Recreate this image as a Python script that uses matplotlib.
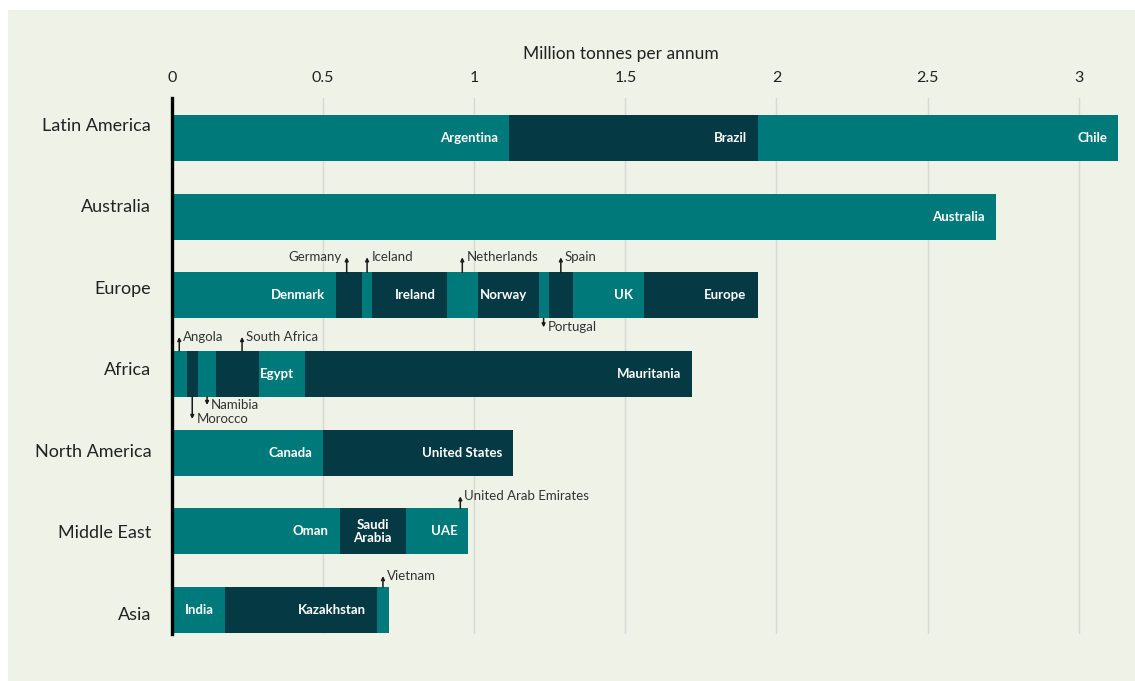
import matplotlib
matplotlib.use("Agg")
import matplotlib.pyplot as plt
from matplotlib.patches import Rectangle

plt.rcParams['font.family'] = ['Lato', 'DejaVu Sans']

# Datos (millones de toneladas por año)
regions = ['Latin America', 'Australia', 'Europe', 'Africa',
           'North America', 'Middle East', 'Asia']

latin_names = ['Argentina', 'Brazil', 'Chile']
latin_vals = [1.115, 0.825, 1.19]
australia_names = ['Australia']
australia_vals = [2.725]
europe_names = ['Denmark', 'Germany', 'Iceland', 'Ireland', 'Netherlands',
                'Norway', 'Portugal', 'Spain', 'UK', 'Europe']
europe_vals = [0.544, 0.085, 0.033, 0.247, 0.103, 0.201, 0.033, 0.081, 0.236, 0.375]
africa_names = ['Angola', 'Morocco', 'Namibia', 'South Africa', 'Egypt', 'Mauritania']
africa_vals = [0.048, 0.038, 0.060, 0.143, 0.152, 1.281]
north_america_names = ['Canada', 'United States']
north_america_vals = [0.5, 0.628]
middle_east_names = ['Oman', 'Saudi Arabia', 'UAE']
middle_east_vals = [0.555, 0.218, 0.208]
asia_names = ['India', 'Kazakhstan', 'Vietnam']
asia_vals = [0.174, 0.503, 0.042]

all_names = [latin_names, australia_names, europe_names, africa_names,
             north_america_names, middle_east_names, asia_names]
all_vals = [latin_vals, australia_vals, europe_vals, africa_vals,
            north_america_vals, middle_east_vals, asia_vals]

# Etiquetas externas: segmento -> (texto, lado, distancia px, texto a la izq., posición relativa)
callouts = {
    'Germany': ('Germany', 'above', 15, True, 0.4),
    'Iceland': ('Iceland', 'above', 15, False, 0.5),
    'Netherlands': ('Netherlands', 'above', 15, False, 0.5),
    'Spain': ('Spain', 'above', 15, False, 0.5),
    'Portugal': ('Portugal', 'below', 9, False, 0.5),
    'Angola': ('Angola', 'above', 14, False, 0.5),
    'South Africa': ('South Africa', 'above', 14, False, 0.6),
    'Namibia': ('Namibia', 'below', 8, False, 0.5),
    'Morocco': ('Morocco', 'below', 22, False, 0.5),
    'UAE': ('United Arab Emirates', 'above', 12, False, 0.87),
    'Vietnam': ('Vietnam', 'above', 11, False, 0.5),
}
no_inside = {'Germany', 'Iceland', 'Netherlands', 'Portugal', 'Spain',
             'Angola', 'Morocco', 'Namibia', 'South Africa', 'Vietnam'}
inside_text = {'Saudi Arabia': 'Saudi\nArabia'}

teal = '#00797A'
dark = '#053A44'
panel = '#EFF2E6'

fig = plt.figure(figsize=(11.35, 6.81), dpi=100, facecolor='white')
fig.patches.append(Rectangle((8 / 1135, 0), 1, 1 - 10 / 681,
                             transform=fig.transFigure, facecolor=panel,
                             edgecolor='none', zorder=-10))
ax = fig.add_axes([172 / 1135, 47 / 681, 946 / 1135, 536 / 681])
ax.set_facecolor(panel)

bar_h = 0.585
px_per_unit = 78.67

for i, (names, vals) in enumerate(zip(all_names, all_vals)):
    left = 0
    for j, (name, v) in enumerate(zip(names, vals)):
        color = teal if j % 2 == 0 else dark
        ax.barh(i, v, left=left, height=bar_h, color=color, linewidth=0, zorder=3)
        if name not in no_inside:
            txt = inside_text.get(name, name)
            if name == 'Saudi Arabia':
                ax.text(left + v / 2, i, txt, ha='center', va='center', color='white',
                        fontsize=9.5, fontweight='bold', zorder=4, linespacing=1.1)
            else:
                ax.annotate(txt, xy=(left + v, i), xytext=(-8, 0),
                            textcoords='offset points', ha='right', va='center',
                            color='white', fontsize=9.5, fontweight='bold', zorder=4)
        if name in callouts:
            label, side, dist, text_left, frac = callouts[name]
            x = left + v * frac
            if side == 'above':
                edge = i - bar_h / 2
                tip = edge - dist / px_per_unit
            else:
                edge = i + bar_h / 2
                tip = edge + dist / px_per_unit
            ax.annotate('', xy=(x, tip), xytext=(x, edge),
                        arrowprops=dict(arrowstyle='-|>', color='#1a1a1a', lw=1.1,
                                        mutation_scale=5, shrinkA=0, shrinkB=0),
                        zorder=5)
            ax.annotate(label, xy=(x, tip), xytext=(-4 if text_left else 3, 0),
                        textcoords='offset points', ha='right' if text_left else 'left',
                        va='center', color='#333333', fontsize=9.5, zorder=5)
        left += v

ax.set_xlim(0, 3.13)
ax.set_ylim(6.305, -0.508)

ax.xaxis.tick_top()
ax.xaxis.set_label_position('top')
ax.set_xticks([0, 0.5, 1, 1.5, 2, 2.5, 3])
ax.set_xticklabels(['0', '0.5', '1', '1.5', '2', '2.5', '3'])
ax.set_xlabel('Million tonnes per annum', fontsize=12.5, color='#222222')
ax.xaxis.set_label_coords(0.474, 1.073)
ax.tick_params(axis='x', length=0, pad=9, labelsize=11.5, labelcolor='#222222')
ax.grid(axis='x', color='#D8D8D8', linewidth=1, zorder=0)

# etiquetas de región, ligeramente desplazadas como en el original
label_y = [-0.508 + (124 + 81.5 * k - 98) / px_per_unit for k in range(len(regions))]
ax.set_yticks(label_y)
ax.set_yticklabels(regions)
ax.tick_params(axis='y', length=0, pad=15, labelsize=13, labelcolor='#222222')

for s in ['top', 'right', 'bottom']:
    ax.spines[s].set_visible(False)
ax.spines['left'].set_color('black')
ax.spines['left'].set_linewidth(2.4)
ax.spines['left'].set_zorder(6)

fig.savefig('out.png', dpi=100, facecolor=fig.get_facecolor())
